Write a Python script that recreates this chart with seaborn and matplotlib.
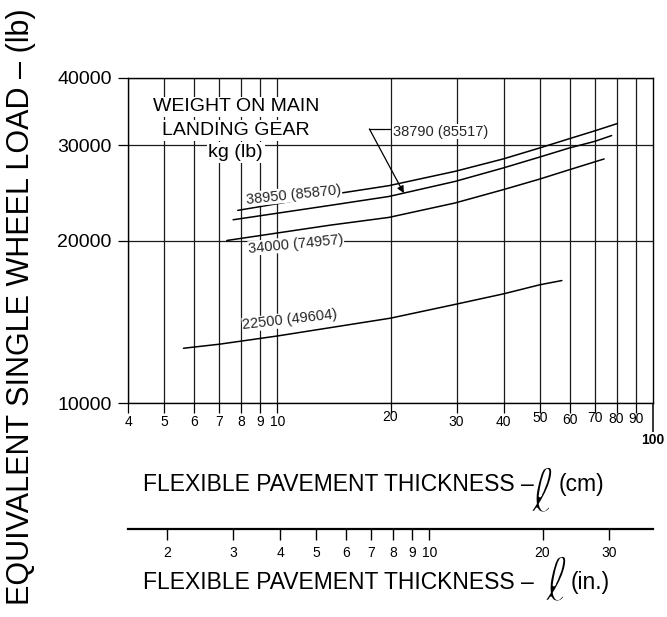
import numpy as np
import pandas as pd
import matplotlib
matplotlib.use("Agg")
import matplotlib.pyplot as plt
import matplotlib.transforms as mtransforms
import matplotlib.patheffects as pe
from matplotlib.ticker import FixedLocator, NullLocator, NullFormatter
import seaborn as sns

sns.set_theme(style="white")
plt.rcParams["font.family"] = ["Liberation Sans", "DejaVu Sans"]

# Flexible pavement thickness (cm) vs equivalent single wheel load (lb),
# one curve per weight on main landing gear, kg (lb)
thk_38950 = [7.84, 13.8, 19.8, 29.7, 39.9, 50, 60, 70, 80.4]
eswl_38950 = [22740, 24310, 25270, 26860, 28320, 29690, 30890, 31930, 32940]

thk_38790 = [7.62, 13.8, 19.8, 29.7, 39.9, 50, 60, 70, 77.6]
eswl_38790 = [21850, 23230, 24130, 25730, 27250, 28560, 29690, 30530, 31290]

thk_34000 = [7.33, 13.8, 19.8, 29.7, 39.9, 50, 60, 74.1]
eswl_34000 = [20000, 21350, 22070, 23470, 24840, 26000, 27060, 28320]

thk_22500 = [5.62, 7, 10, 20, 30, 40, 50, 57.2]
eswl_22500 = [12630, 12850, 13310, 14360, 15250, 15930, 16560, 16860]

series_names = ["38950 (85870)", "38790 (85517)", "34000 (74957)", "22500 (49604)"]

cm_ticks = [4, 5, 6, 7, 8, 9, 10, 20, 30, 40, 50, 60, 70, 80, 90]
in_ticks = [2, 3, 4, 5, 6, 7, 8, 9, 10, 20, 30]
load_ticks = [10000, 20000, 30000, 40000]

df = pd.concat([
    pd.DataFrame({"thickness": t, "eswl": e, "weight": n})
    for t, e, n in [
        (thk_38950, eswl_38950, series_names[0]),
        (thk_38790, eswl_38790, series_names[1]),
        (thk_34000, eswl_34000, series_names[2]),
        (thk_22500, eswl_22500, series_names[3]),
    ]
], ignore_index=True)

W, H = 667, 617
fig = plt.figure(figsize=(W / 100, H / 100), dpi=100)
fig.patch.set_facecolor("white")


def fx(px):
    return px / W


def fy(py):
    return 1 - py / H


ax = fig.add_axes([fx(128), fy(403), fx(653) - fx(128), fy(78) - fy(403)])
ax.set_xscale("log")
ax.set_yscale("log")

sns.lineplot(data=df, x="thickness", y="eswl", units="weight", estimator=None,
             sort=False, color="black", lw=1.1, legend=False, ax=ax)

ax.set_xlim(4, 100)
ax.set_ylim(10000, 40000)
ax.set_xlabel("")
ax.set_ylabel("")

# grid and ticks
ax.xaxis.set_major_locator(FixedLocator(cm_ticks))
ax.xaxis.set_minor_locator(FixedLocator([100]))
ax.xaxis.set_major_formatter(NullFormatter())
ax.xaxis.set_minor_formatter(NullFormatter())
ax.yaxis.set_major_locator(FixedLocator(load_ticks))
ax.yaxis.set_minor_locator(NullLocator())
ax.set_yticklabels([str(v) for v in load_ticks])
ax.tick_params(axis="x", which="major", direction="out", length=7.2, width=0.9,
               color="black", bottom=True)
ax.tick_params(axis="x", which="minor", direction="out", length=21, width=1.1,
               color="black", bottom=True)
ax.tick_params(axis="y", which="major", direction="out", length=7.2, width=0.9,
               color="black", left=True, labelsize=14, pad=4.5, labelcolor="black")
ax.set_axisbelow(True)
ax.grid(axis="x", which="major", color="#1a1a1a", lw=0.9)
ax.grid(axis="y", which="major", color="#1a1a1a", lw=0.9)
for s in ax.spines.values():
    s.set_color("black")
    s.set_linewidth(1.0)

# x tick labels (cm), slightly staggered as in a hand-lettered chart
xlab_shift = {20: -5, 50: -4, 60: -2, 70: -4, 80: -3, 90: -3}
xtrans = mtransforms.blended_transform_factory(ax.transData, ax.transAxes)
for v in cm_ticks:
    tr = mtransforms.offset_copy(xtrans, fig=fig, x=0, y=-(19 + xlab_shift.get(v, 0)),
                                 units="dots")
    ax.text(v, 0, str(v), transform=tr, ha="center", va="center", fontsize=10,
            color="black")
tr100 = mtransforms.offset_copy(xtrans, fig=fig, x=0, y=-37, units="dots")
ax.text(100, 0, "100", transform=tr100, ha="center", va="center", fontsize=10,
        fontweight="bold", color="black")

# legend header
box = dict(facecolor="white", edgecolor="none", pad=1.2)
for txt, py in [("WEIGHT ON MAIN", 111.5), ("LANDING GEAR", 135), ("kg (lb)", 157)]:
    fig.text(fx(235.7), fy(py), txt, ha="center", va="baseline", fontsize=14,
             color="black", bbox=box, zorder=5)

# curve labels
lbl_box = dict(facecolor="white", edgecolor="none", pad=0.3)
ax.text(11.07, 24320, series_names[0], rotation=6, rotation_mode="anchor",
        ha="center", va="center", fontsize=10.5, bbox=lbl_box, zorder=4)
ax.text(11.2, 19700, series_names[2], rotation=5.6, rotation_mode="anchor",
        ha="center", va="center", fontsize=10.5, bbox=lbl_box, zorder=4)
ax.text(10.8, 14256, series_names[3], rotation=6.5, rotation_mode="anchor",
        ha="center", va="center", fontsize=10.5, bbox=lbl_box, zorder=4)

# leader for the 38790 curve
ax.text(20.3, 31830, series_names[1], ha="left", va="center", fontsize=10.5,
        bbox=lbl_box, zorder=4)
ax.plot([17.57, 19.94], [32190, 32190], color="black", lw=0.9)
tip_x = 21.7
tip_y = 10 ** np.interp(np.log10(tip_x), np.log10(thk_38790), np.log10(eswl_38790))
ax.annotate("", xy=(tip_x, tip_y), xytext=(17.57, 32190),
            arrowprops=dict(arrowstyle="-|>", color="black", lw=0.9,
                            mutation_scale=10, shrinkA=0, shrinkB=0))

# inch scale below
ax2 = fig.add_axes([fx(128), fy(529), fx(653) - fx(128), 0.0005])
ax2.set_xscale("log")
ax2.set_xlim(4 / 2.54, 100 / 2.54)
ax2.patch.set_alpha(0)
for k in ["top", "left", "right"]:
    ax2.spines[k].set_visible(False)
ax2.spines["bottom"].set_color("black")
ax2.spines["bottom"].set_linewidth(1.6)
ax2.set_yticks([])
ax2.xaxis.set_major_locator(FixedLocator(in_ticks))
ax2.xaxis.set_minor_locator(NullLocator())
ax2.set_xticklabels([str(v) for v in in_ticks])
ax2.tick_params(axis="x", direction="out", length=7.9, width=1.0, color="black",
                labelsize=10, pad=4.0, labelcolor="black", bottom=True)

# axis titles
fig.text(fx(21.0), fy(307), "EQUIVALENT SINGLE WHEEL LOAD \u2013 (lb)", rotation=90,
         ha="center", va="center", fontsize=22, color="black")

fig.canvas.draw()
renderer = fig.canvas.get_renderer()

# a thin-stroked script l: the glyph is drawn, then its outline is eroded in white
thin = [pe.Normal(), pe.Stroke(linewidth=1.8, foreground="white")]


def caption(x0, base_y, unit, gap1, gap2, ell_dy):
    t = fig.text(fx(x0), fy(base_y), "FLEXIBLE PAVEMENT THICKNESS \u2013", ha="left",
                 va="baseline", fontsize=16.5, color="black")
    bb = t.get_window_extent(renderer)
    e = fig.text((bb.x1 + gap1) / W, fy(base_y + ell_dy), "\u2113", ha="left",
                 va="baseline", fontsize=44, color="black",
                 family=["DejaVu Sans"], path_effects=thin)
    eb = e.get_window_extent(renderer)
    fig.text((eb.x1 + gap2) / W, fy(base_y), unit, ha="left", va="baseline",
             fontsize=16.5, color="black")


caption(143, 491, "(cm)", -3, 3, 21)
caption(143, 589, "(in.)", 11, 0, 12)

fig.savefig("out.png", dpi=100, facecolor="white")
